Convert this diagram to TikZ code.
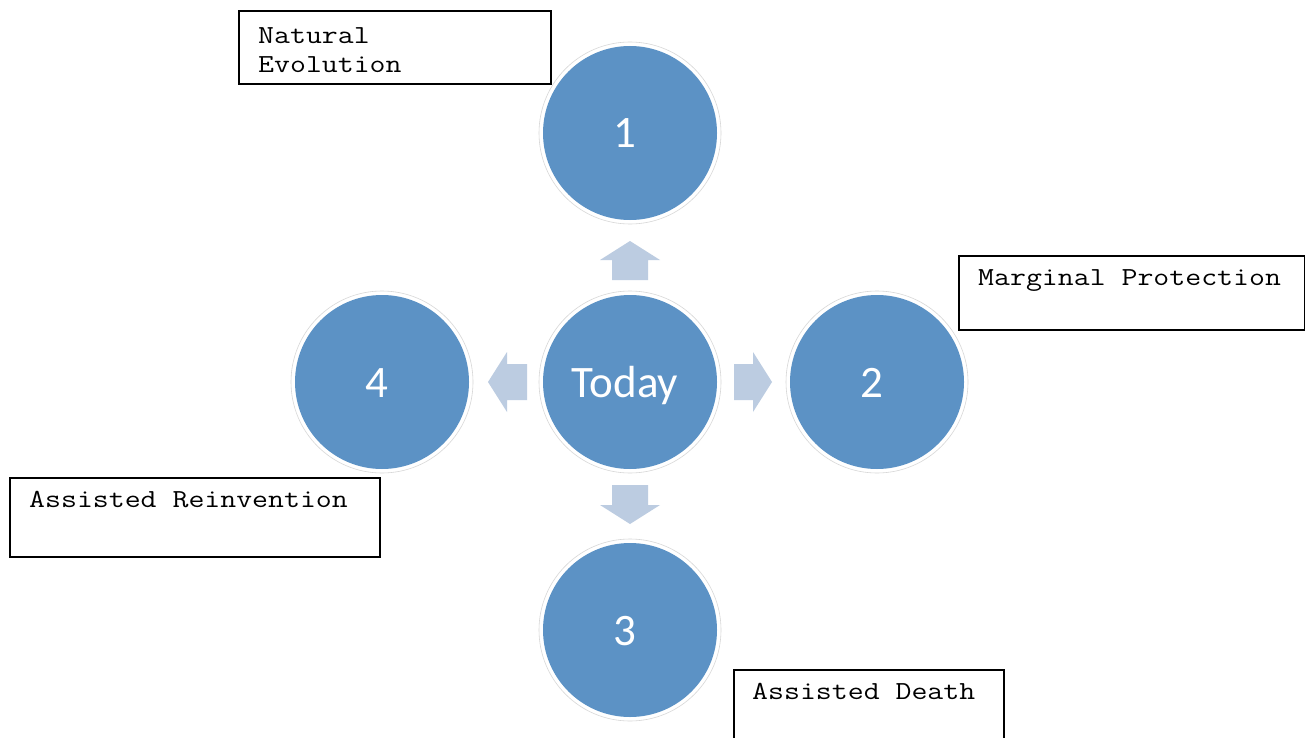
\documentclass[tikz,border=0pt]{standalone}
\usepackage{fontspec}
\newfontfamily\monofont[FakeStretch=1.19]{Latin Modern Mono}
\newfontfamily\circfont{Carlito}
\definecolor{circblue}{RGB}{92,146,197}
\definecolor{arrowblue}{RGB}{188,204,225}
\definecolor{ringgray}{RGB}{215,215,215}
\begin{document}
\begin{tikzpicture}[x=1pt,y=-1pt,
  ring/.style={circle,fill=white,draw=ringgray,line width=0.6pt,minimum size=182pt,inner sep=0pt},
  disc/.style={circle,fill=circblue,minimum size=174pt,inner sep=0pt},
  disctext/.style={text=white,font=\circfont\fontsize{45}{45}\selectfont,anchor=base},
  labelbox/.style={draw=black,line width=1.8pt,inner sep=0pt,anchor=north west},
  labeltext/.style={font=\monofont\fontsize{26}{30}\selectfont,anchor=base west,inner sep=0pt},
  blockarrow/.style={fill=arrowblue,draw=none}]
\useasboundingbox (0,0) rectangle (1305,738);
\clip (0,0) rectangle (1305,738);
\fill[white] (0,0) rectangle (1305,738);
% circles
\foreach \n/\x/\y in {c1/630/133, c0/630/382, c2/877/382, c3/630/630, c4/382/382}{
  \node[ring] (\n r) at (\x,\y) {};
  \node[disc] (\n) at (\x,\y) {};
}
\node[disctext] (t1) at ([xshift=-5pt,yshift=-15pt]c1.center) {1};
\node[disctext] (t0) at ([xshift=-5pt,yshift=-15pt]c0.center) {Today};
\node[disctext] (t2) at ([xshift=-5pt,yshift=-15pt]c2.center) {2};
\node[disctext] (t3) at ([xshift=-5pt,yshift=-15pt]c3.center) {3};
\node[disctext] (t4) at ([xshift=-5pt,yshift=-15pt]c4.center) {4};
% block arrows
\coordinate (up) at (630,241);
\fill[blockarrow] (up) -- ++(30,19) -- ++(-12,0) -- ++(0,20) -- ++(-36,0) -- ++(0,-20) -- ++(-12,0) -- cycle;
\coordinate (down) at (630,524);
\fill[blockarrow] (down) -- ++(30,-19) -- ++(-12,0) -- ++(0,-20) -- ++(-36,0) -- ++(0,20) -- ++(-12,0) -- cycle;
\coordinate (right) at (772,382);
\fill[blockarrow] (right) -- ++(-19,30) -- ++(0,-12) -- ++(-19,0) -- ++(0,-36) -- ++(19,0) -- ++(0,-12) -- cycle;
\coordinate (left) at (488,382);
\fill[blockarrow] (left) -- ++(19,30) -- ++(0,-12) -- ++(20,0) -- ++(0,-36) -- ++(-20,0) -- ++(0,-12) -- cycle;
% label boxes
\node[labelbox,minimum width=312pt,minimum height=73pt] (bne) at (238,10) {};
\node[labeltext] (ne1) at (258,44) {Natural};
\node[labeltext] (ne2) at (258,73) {Evolution};
\node[labelbox,minimum width=346pt,minimum height=74pt] (bmp) at (958,255) {};
\node[labeltext] (mp) at (978,285) {Marginal Protection};
\node[labelbox,minimum width=370pt,minimum height=79pt] (bar) at (9,477) {};
\node[labeltext] (ar) at (29,507) {Assisted Reinvention};
\node[labelbox,minimum width=270pt,minimum height=90pt] (bad) at (733,669) {};
\node[labeltext] (ad) at (752,699) {Assisted Death};
\end{tikzpicture}
\end{document}
